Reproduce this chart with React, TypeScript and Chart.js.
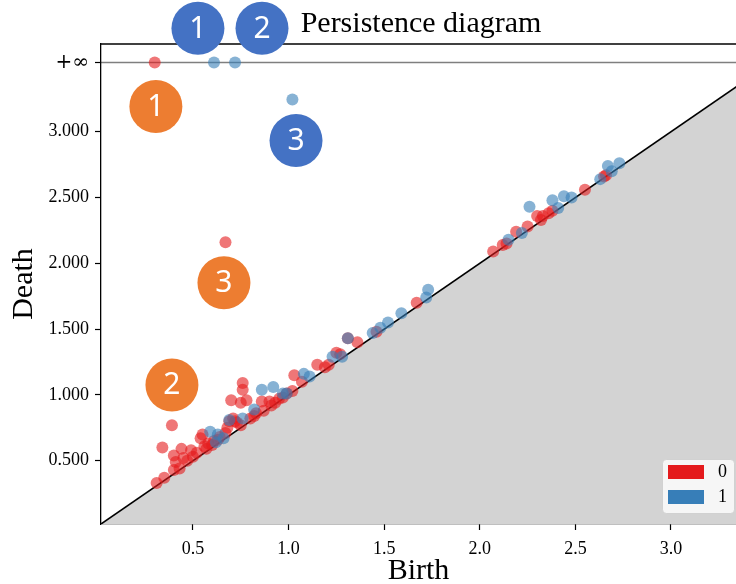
import React, { useEffect, useRef } from 'react';
import { Chart, registerables } from 'chart.js';

Chart.register(...registerables);

// ---- axis / scale values ----
const AXIS_START = 0.019;
const AXIS_END = 3.667;
const X_VIEW_END = 3.34;
const INFINITY = 3.526;

const X_TICKS = [0.5, 1.0, 1.5, 2.0, 2.5, 3.0];
const X_TICK_LABELS = ['0.5', '1.0', '1.5', '2.0', '2.5', '3.0'];
const Y_TICKS = [0.5, 1.0, 1.5, 2.0, 2.5, 3.0, INFINITY];
const Y_TICK_LABELS = ['0.500', '1.000', '1.500', '2.000', '2.500', '3.000', '+∞'];

// ---- dimension 0 (red) ----
const H0_BIRTH = [
  0.31, 0.35, 0.39, 0.34, 0.40, 0.44, 0.41, 0.45, 0.40, 0.43, 0.47, 0.49, 0.52, 0.50, 0.54, 0.56, 0.57, 0.61,
  0.55, 0.60, 0.63, 0.67, 0.68, 0.69, 0.72, 0.73, 0.75, 0.71, 0.80, 0.83, 0.87, 0.91, 0.86, 0.90, 0.93, 0.97,
  1.02, 0.70, 0.75, 0.78, 0.76, 0.76, 1.03, 1.07, 1.15, 1.19, 1.25, 1.27, 1.31, 1.36, 1.46, 1.67, 2.07, 2.12,
  2.14, 2.19, 2.25, 2.30, 2.32, 2.33, 2.36, 2.38, 2.55, 2.65, 2.66, 0.67, 0.82, 0.95, 0.99, 1.21, 0.64, 0.58,
];
const H0_DEATH = [
  0.33, 0.37, 0.77, 0.60, 0.54, 0.59, 0.49, 0.52, 0.43, 0.44, 0.50, 0.58, 0.56, 0.53, 0.67, 0.61, 0.59, 0.65,
  0.70, 0.62, 0.66, 0.71, 0.75, 0.80, 0.80, 0.79, 0.77, 0.82, 0.82, 0.86, 0.88, 0.92, 0.95, 0.95, 0.94, 0.98,
  1.03, 0.96, 0.94, 0.96, 1.04, 1.09, 1.15, 1.10, 1.23, 1.21, 1.32, 1.31, 1.43, 1.40, 1.48, 1.70, 2.09, 2.14,
  2.15, 2.24, 2.28, 2.36, 2.33, 2.36, 2.38, 2.40, 2.56, 2.66, 2.67, 2.16, 0.84, 0.97, 1.01, 1.23, 0.68, 0.63,
];
const H0_INF_BIRTH = [0.30];

// ---- dimension 1 (blue) ----
const H1_BIRTH = [
  0.59, 0.63, 0.66, 0.69, 0.76, 0.82, 0.86, 0.92, 0.97, 0.99, 1.08, 1.11, 1.23, 1.28, 1.31, 1.44, 1.48, 1.52,
  1.59, 1.72, 1.73, 2.15, 2.22, 2.26, 2.38, 2.41, 2.44, 2.48, 2.63, 2.67, 2.69, 2.73, 1.02, 0.62,
];
const H1_DEATH = [
  0.72, 0.70, 0.67, 0.81, 0.82, 0.89, 1.04, 1.06, 1.01, 1.01, 1.16, 1.14, 1.29, 1.29, 1.43, 1.47, 1.51, 1.55,
  1.62, 1.74, 1.80, 2.18, 2.23, 2.43, 2.48, 2.42, 2.51, 2.50, 2.64, 2.74, 2.70, 2.76, 3.245, 0.64,
];
const H1_INF_BIRTH = [0.61, 0.72];

const LEGEND_LABELS = ['0', '1'];
const COLORS = ['rgb(228,26,28)', 'rgb(55,126,184)'];
const POINT_COLORS = ['rgba(228,26,28,0.6)', 'rgba(55,126,184,0.6)'];

// ---- numbered callouts overlaid on the picture (data units) ----
const CALLOUT_X = [0.526, 0.861, 1.039, 0.306, 0.390, 0.662];
const CALLOUT_Y = [3.786, 3.786, 2.933, 3.192, 1.076, 1.852];
const CALLOUT_TEXT = ['1', '2', '3', '1', '2', '3'];
const CALLOUT_COLOR = ['#4472C4', '#4472C4', '#4472C4', '#ED7D31', '#ED7D31', '#ED7D31'];

const SERIF = '"Liberation Serif", "Times New Roman", serif';

const toPoints = (b: number[], d: number[]) => b.map((x, i) => ({ x, y: d[i] }));

const framePlugin = {
  id: 'frameAndExtras',
  afterDraw(chart: any) {
    const { ctx, chartArea, scales } = chart;
    ctx.save();
    // top frame line
    ctx.strokeStyle = '#000';
    ctx.lineWidth = 1.3;
    ctx.beginPath();
    ctx.moveTo(chartArea.left, chartArea.top);
    ctx.lineTo(chartArea.right, chartArea.top);
    ctx.stroke();

    // title
    ctx.fillStyle = '#000';
    ctx.font = `30px ${SERIF}`;
    ctx.textAlign = 'center';
    ctx.textBaseline = 'alphabetic';
    ctx.fillText('Persistence diagram', 421, 32);

    // legend
    const bx = chartArea.right - 74;
    const by = chartArea.bottom - 65;
    ctx.fillStyle = 'rgba(255,255,255,0.8)';
    ctx.strokeStyle = 'rgba(204,204,204,0.8)';
    ctx.lineWidth = 1;
    ctx.beginPath();
    (ctx as any).roundRect(bx + 0.5, by + 0.5, 72, 54, 4);
    ctx.fill();
    ctx.stroke();
    LEGEND_LABELS.forEach((lab, i) => {
      const y = by + 6 + i * 25;
      ctx.fillStyle = COLORS[i];
      ctx.fillRect(bx + 6, y, 36, 14);
      ctx.fillStyle = '#000';
      ctx.font = `18px ${SERIF}`;
      ctx.textAlign = 'left';
      ctx.textBaseline = 'middle';
      ctx.fillText(lab, bx + 56, y + 7);
    });

    // callouts
    CALLOUT_X.forEach((vx, i) => {
      const px = scales.x.getPixelForValue(vx);
      const py = scales.y.getPixelForValue(CALLOUT_Y[i]);
      ctx.fillStyle = CALLOUT_COLOR[i];
      ctx.beginPath();
      ctx.arc(px, py, 26.5, 0, Math.PI * 2);
      ctx.fill();
      ctx.fillStyle = '#fff';
      ctx.font = '30px "Noto Sans", "Open Sans", sans-serif';
      ctx.textAlign = 'center';
      ctx.textBaseline = 'middle';
      ctx.fillText(CALLOUT_TEXT[i], px, py + 1);
    });
    ctx.restore();
  },
};

export default function App() {
  const ref = useRef<HTMLCanvasElement>(null);
  useEffect(() => {
    document.body.style.margin = '0';
    const h0 = toPoints(H0_BIRTH, H0_DEATH).concat(H0_INF_BIRTH.map((x) => ({ x, y: INFINITY })));
    const h1 = toPoints(H1_BIRTH, H1_DEATH).concat(H1_INF_BIRTH.map((x) => ({ x, y: INFINITY })));
    const chart = new Chart(ref.current as HTMLCanvasElement, {
      type: 'scatter',
      data: {
        datasets: [
          {
            label: 'diagonal',
            data: [
              { x: AXIS_START, y: AXIS_START },
              { x: AXIS_END, y: AXIS_END },
            ],
            showLine: true,
            borderColor: '#000',
            borderWidth: 1.6,
            pointRadius: 0,
            fill: 'start',
            backgroundColor: '#d3d3d3',
            order: 3,
          } as any,
          {
            label: 'infinity',
            data: [
              { x: AXIS_START, y: INFINITY },
              { x: AXIS_END, y: INFINITY },
            ],
            showLine: true,
            borderColor: 'rgba(0,0,0,0.5)',
            borderWidth: 1.4,
            pointRadius: 0,
            fill: false,
            order: 2,
          } as any,
          {
            label: LEGEND_LABELS[0],
            data: h0,
            backgroundColor: POINT_COLORS[0],
            borderWidth: 0,
            pointRadius: 6,
            order: 1,
          },
          {
            label: LEGEND_LABELS[1],
            data: h1,
            backgroundColor: POINT_COLORS[1],
            borderWidth: 0,
            pointRadius: 6,
            order: 0,
          },
        ],
      },
      options: {
        animation: false,
        responsive: true,
        maintainAspectRatio: false,
        events: [],
        layout: { autoPadding: false, padding: { top: 44, left: 0, right: 0, bottom: 0 } },
        plugins: { legend: { display: false }, tooltip: { enabled: false }, title: { display: false } },
        scales: {
          x: {
            type: 'linear',
            min: AXIS_START,
            max: X_VIEW_END,
            afterBuildTicks: (s: any) => {
              s.ticks = X_TICKS.map((value) => ({ value }));
            },
            afterFit: (s: any) => {
              s.height = 60;
              s.paddingLeft = 0;
              s.paddingRight = 0;
            },
            ticks: {
              callback: (v: any) => X_TICK_LABELS[X_TICKS.indexOf(v)] ?? '',
              font: { family: SERIF, size: 18 },
              color: '#000',
              padding: 8,
              maxRotation: 0,
              autoSkip: false,
            },
            grid: { drawOnChartArea: false, drawTicks: true, tickLength: 6, color: '#000', tickWidth: 1.2 },
            border: { display: true, color: '#000', width: 1.3 },
            title: {
              display: true,
              text: 'Birth',
              color: '#000',
              font: { family: SERIF, size: 30, lineHeight: 1 },
              padding: { top: 0, bottom: -2 },
            },
          },
          y: {
            type: 'linear',
            min: AXIS_START,
            max: AXIS_END,
            afterBuildTicks: (s: any) => {
              s.ticks = Y_TICKS.map((value) => ({ value }));
            },
            afterFit: (s: any) => {
              s.width = 101;
              s.paddingTop = 0;
              s.paddingBottom = 0;
            },
            ticks: {
              callback: (v: any) => Y_TICK_LABELS[Y_TICKS.indexOf(v)] ?? '',
              font: (c: any) =>
                c.tick && c.tick.value === INFINITY
                  ? { family: '"DejaVu Serif", serif', size: 20 }
                  : { family: SERIF, size: 18 },
              color: '#000',
              padding: 6,
              autoSkip: false,
            },
            grid: { drawOnChartArea: false, drawTicks: true, tickLength: 6, color: '#000', tickWidth: 1.2 },
            border: { display: true, color: '#000', width: 1.3 },
            title: {
              display: true,
              text: 'Death',
              color: '#000',
              font: { family: SERIF, size: 30, lineHeight: 1 },
              padding: { top: 9, bottom: 0 },
            },
          },
        },
      },
      plugins: [framePlugin],
    } as any);
    return () => chart.destroy();
  }, []);
  return (
    <div style={{ width: 736, height: 584, position: 'relative' }}>
      <canvas ref={ref} />
    </div>
  );
}
